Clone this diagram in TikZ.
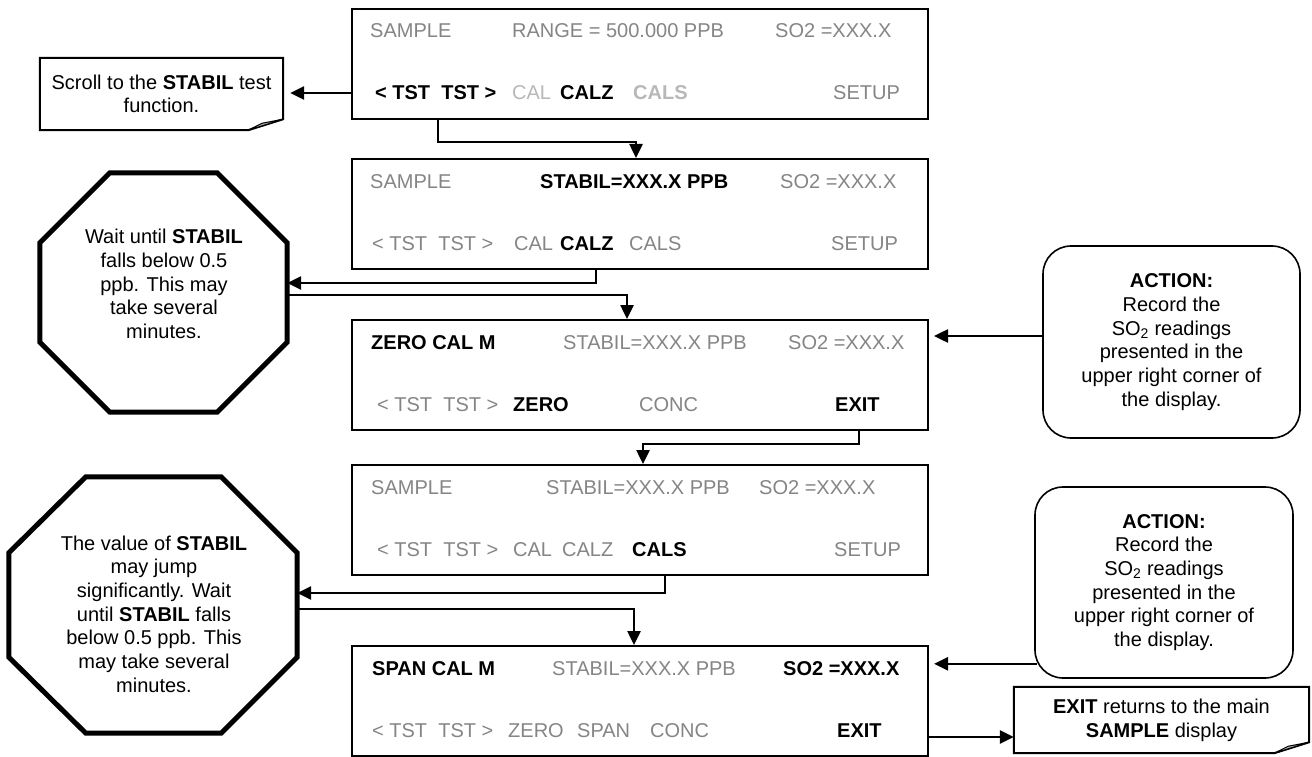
\documentclass[tikz,border=0pt]{standalone}
\usepackage{fontspec}
\setmainfont{Liberation Sans}
\usetikzlibrary{arrows.meta,calc}
\definecolor{dgray}{HTML}{858585}
\definecolor{lgray}{HTML}{B8B8B8}
\begin{document}
\begin{tikzpicture}[x=1pt,y=-1pt,
  every node/.style={font=\fontsize{20}{23.7}\selectfont, inner sep=0pt},
  disp/.style={draw, line width=2pt, anchor=north west, minimum width=576pt, minimum height=110pt},
  tx/.style={anchor=west, text height=14pt, text depth=0pt},
  gx/.style={tx, text=dgray},
  lx/.style={tx, text=lgray},
  conn/.style={line width=2.5pt, -{Triangle[length=14pt,width=13pt]}},
  octline/.style={line width=5pt, line join=miter},
  actbox/.style={draw, line width=1.6pt, rounded corners=28pt, align=center},
  notebox/.style={align=center},
  noteline/.style={line width=2pt, line join=miter}
]
\useasboundingbox (0,0) rectangle (1312,757);
\fill[white] (0,0) rectangle (1312,757);

% ---------- display boxes ----------
\node[disp] (b1) at (351,8) {};
\node[disp] (b2) at (351,158) {};
\node[disp] (b3) at (351,319) {};
\node[disp] (b4) at (351,464) {};
\node[disp] (b5) at (351,645) {};

% box 1
\node[gx] (b1a) at (370,31) {SAMPLE};
\node[gx] (b1b) at (512,31) {RANGE = 500.000 PPB};
\node[gx] (b1c) at (775,31) {SO2 =XXX.X};
\node[tx] (b1d) at (375,93) {\textbf{< TST~~TST >}};
\node[lx] (b1e) at (512,93) {CAL};
\node[tx] (b1f) at (560,93) {\textbf{CALZ}};
\node[lx] (b1g) at (633,93) {\textbf{CALS}};
\node[gx] (b1h) at (833,93) {SETUP};

% box 2
\node[gx] (b2a) at (370,181) {SAMPLE};
\node[tx] (b2b) at (540,181) {\textbf{STABIL=XXX.X PPB}};
\node[gx] (b2c) at (780,181) {SO2 =XXX.X};
\node[gx] (b2d) at (372,243) {< TST~~TST >};
\node[gx] (b2e) at (514,243) {CAL};
\node[tx] (b2f) at (560,243) {\textbf{CALZ}};
\node[gx] (b2g) at (629,243) {CALS};
\node[gx] (b2h) at (831,243) {SETUP};

% box 3
\node[tx] (b3a) at (371,342) {\textbf{ZERO CAL M}};
\node[gx] (b3b) at (563,342) {STABIL=XXX.X PPB};
\node[gx] (b3c) at (788,342) {SO2 =XXX.X};
\node[gx] (b3d) at (377,404) {< TST~~TST >};
\node[tx] (b3e) at (513,404) {\textbf{ZERO}};
\node[gx] (b3f) at (639,404) {CONC};
\node[tx] (b3g) at (835,404) {\textbf{EXIT}};

% box 4
\node[gx] (b4a) at (371,487) {SAMPLE};
\node[gx] (b4b) at (546,487) {STABIL=XXX.X PPB};
\node[gx] (b4c) at (759,487) {SO2 =XXX.X};
\node[gx] (b4d) at (377,549) {< TST~~TST >};
\node[gx] (b4e) at (513,549) {CAL};
\node[gx] (b4f) at (562,549) {CALZ};
\node[tx] (b4g) at (632,549) {\textbf{CALS}};
\node[gx] (b4h) at (834,549) {SETUP};

% box 5
\node[tx] (b5a) at (372,668) {\textbf{SPAN CAL M}};
\node[gx] (b5b) at (552,668) {STABIL=XXX.X PPB};
\node[tx] (b5c) at (783,668) {\textbf{SO2 =XXX.X}};
\node[gx] (b5d) at (372,730) {< TST~~TST >};
\node[gx] (b5e) at (508,730) {ZERO};
\node[gx] (b5f) at (577,730) {SPAN};
\node[gx] (b5g) at (650,730) {CONC};
\node[tx] (b5h) at (837,730) {\textbf{EXIT}};

% ---------- octagons ----------
\node[minimum width=247pt, minimum height=239pt] (oct1) at (163.5,292.5) {};
\draw[octline] ($(oct1.north west)+(70,0)$) -- ($(oct1.north east)+(-70,0)$)
  -- ($(oct1.north east)+(0,70)$) -- ($(oct1.south east)+(0,-70)$)
  -- ($(oct1.south east)+(-70,0)$) -- ($(oct1.south west)+(70,0)$)
  -- ($(oct1.south west)+(0,-70)$) -- ($(oct1.north west)+(0,70)$) -- cycle;
\node[align=center] (oct1t) at (164,284) {Wait until \textbf{STABIL}\\falls below 0.5\\ppb. This may\\take several\\minutes.};

\node[minimum width=288pt, minimum height=256pt] (oct2) at (153,605) {};
\draw[octline] ($(oct2.north west)+(77,0)$) -- ($(oct2.north east)+(-76,0)$)
  -- ($(oct2.north east)+(0,76)$) -- ($(oct2.south east)+(0,-76)$)
  -- ($(oct2.south east)+(-76,0)$) -- ($(oct2.south west)+(77,0)$)
  -- ($(oct2.south west)+(0,-76)$) -- ($(oct2.north west)+(0,76)$) -- cycle;
\node[align=center] (oct2t) at (154,614) {The value of \textbf{STABIL}\\may jump\\significantly. Wait\\until \textbf{STABIL} falls\\below 0.5 ppb. This\\may take several\\minutes.};

% ---------- action boxes ----------
\node[actbox, minimum width=257pt, minimum height=192pt] (act1) at (1171.5,342)
  {\textbf{ACTION:}\\Record the\\SO\textsubscript{2} readings\\presented in the\\upper right corner of\\the display.};
\node[actbox, minimum width=258pt, minimum height=191pt] (act2) at (1164,582.5)
  {\textbf{ACTION:}\\Record the\\SO\textsubscript{2} readings\\presented in the\\upper right corner of\\the display.};

% ---------- notes ----------
\node[notebox, minimum width=243pt, minimum height=72pt] (n1) at (161.5,94)
  {Scroll to the \textbf{STABIL} test\\function.};
\draw[noteline] (n1.north west) -- (n1.north east) -- ($(n1.south east)+(0,-11)$)
  -- ($(n1.south east)+(-35,0)$) -- (n1.south west) -- cycle;
\filldraw[line width=1pt, fill=black!35] ($(n1.south east)+(-35,0)$) -- ($(n1.south east)+(0,-11)$)
  -- ($(n1.south east)+(-21,-7)$) -- cycle;

\node[notebox, minimum width=295pt, minimum height=66pt] (n2) at (1161.5,720)
  {\textbf{EXIT} returns to the main\\\textbf{SAMPLE} display};
\draw[noteline] (n2.north west) -- (n2.north east) -- ($(n2.south east)+(0,-11)$)
  -- ($(n2.south east)+(-35,0)$) -- (n2.south west) -- cycle;
\filldraw[line width=1pt, fill=black!35] ($(n2.south east)+(-35,0)$) -- ($(n2.south east)+(0,-11)$)
  -- ($(n2.south east)+(-21,-7)$) -- cycle;

% ---------- connectors ----------
\coordinate (b1x) at ($(b1.south west)+(87,0)$);
\draw[conn] (b1x) -- ++(0,22) -| ($(b2.north west)+(285,0)$);

\coordinate (b1r) at ($(b1.north west)+(0,85)$);
\draw[conn, shorten >=7pt] (b1r) -- (n1.east |- b1r);

\coordinate (b2x) at ($(b2.south west)+(245,0)$);
\coordinate (c3y) at ($(b2x)+(0,13)$);
\draw[conn] (b2x) -- (c3y) -- (oct1.east |- c3y);

\coordinate (o1out) at ($(oct1.east)+(0,2.5)$);
\draw[conn] (o1out) -| ($(b3.north west)+(276,0)$);

\coordinate (a1o) at ($(act1.west)+(0,-6)$);
\draw[conn, shorten >=5pt] (a1o) -- (b3.east |- a1o);

\coordinate (b3x) at ($(b3.south west)+(508,0)$);
\draw[conn] (b3x) -- ++(0,13) -| ($(b4.north west)+(292,0)$);

\coordinate (b4x) at ($(b4.south west)+(314,0)$);
\coordinate (c7y) at ($(b4x)+(0,17)$);
\draw[conn] (b4x) -- (c7y) -- (oct2.east |- c7y);

\coordinate (o2out) at ($(oct2.east)+(0,4)$);
\draw[conn] (o2out) -| ($(b5.north west)+(283,0)$);

\coordinate (a2o) at ($(act2.south west)+(3,-15)$);
\draw[conn, shorten >=5pt] (a2o) -- (b5.east |- a2o);

\coordinate (b5o) at ($(b5.north east)+(0,92)$);
\draw[conn] (b5o) -- (n2.west |- b5o);
\end{tikzpicture}
\end{document}
